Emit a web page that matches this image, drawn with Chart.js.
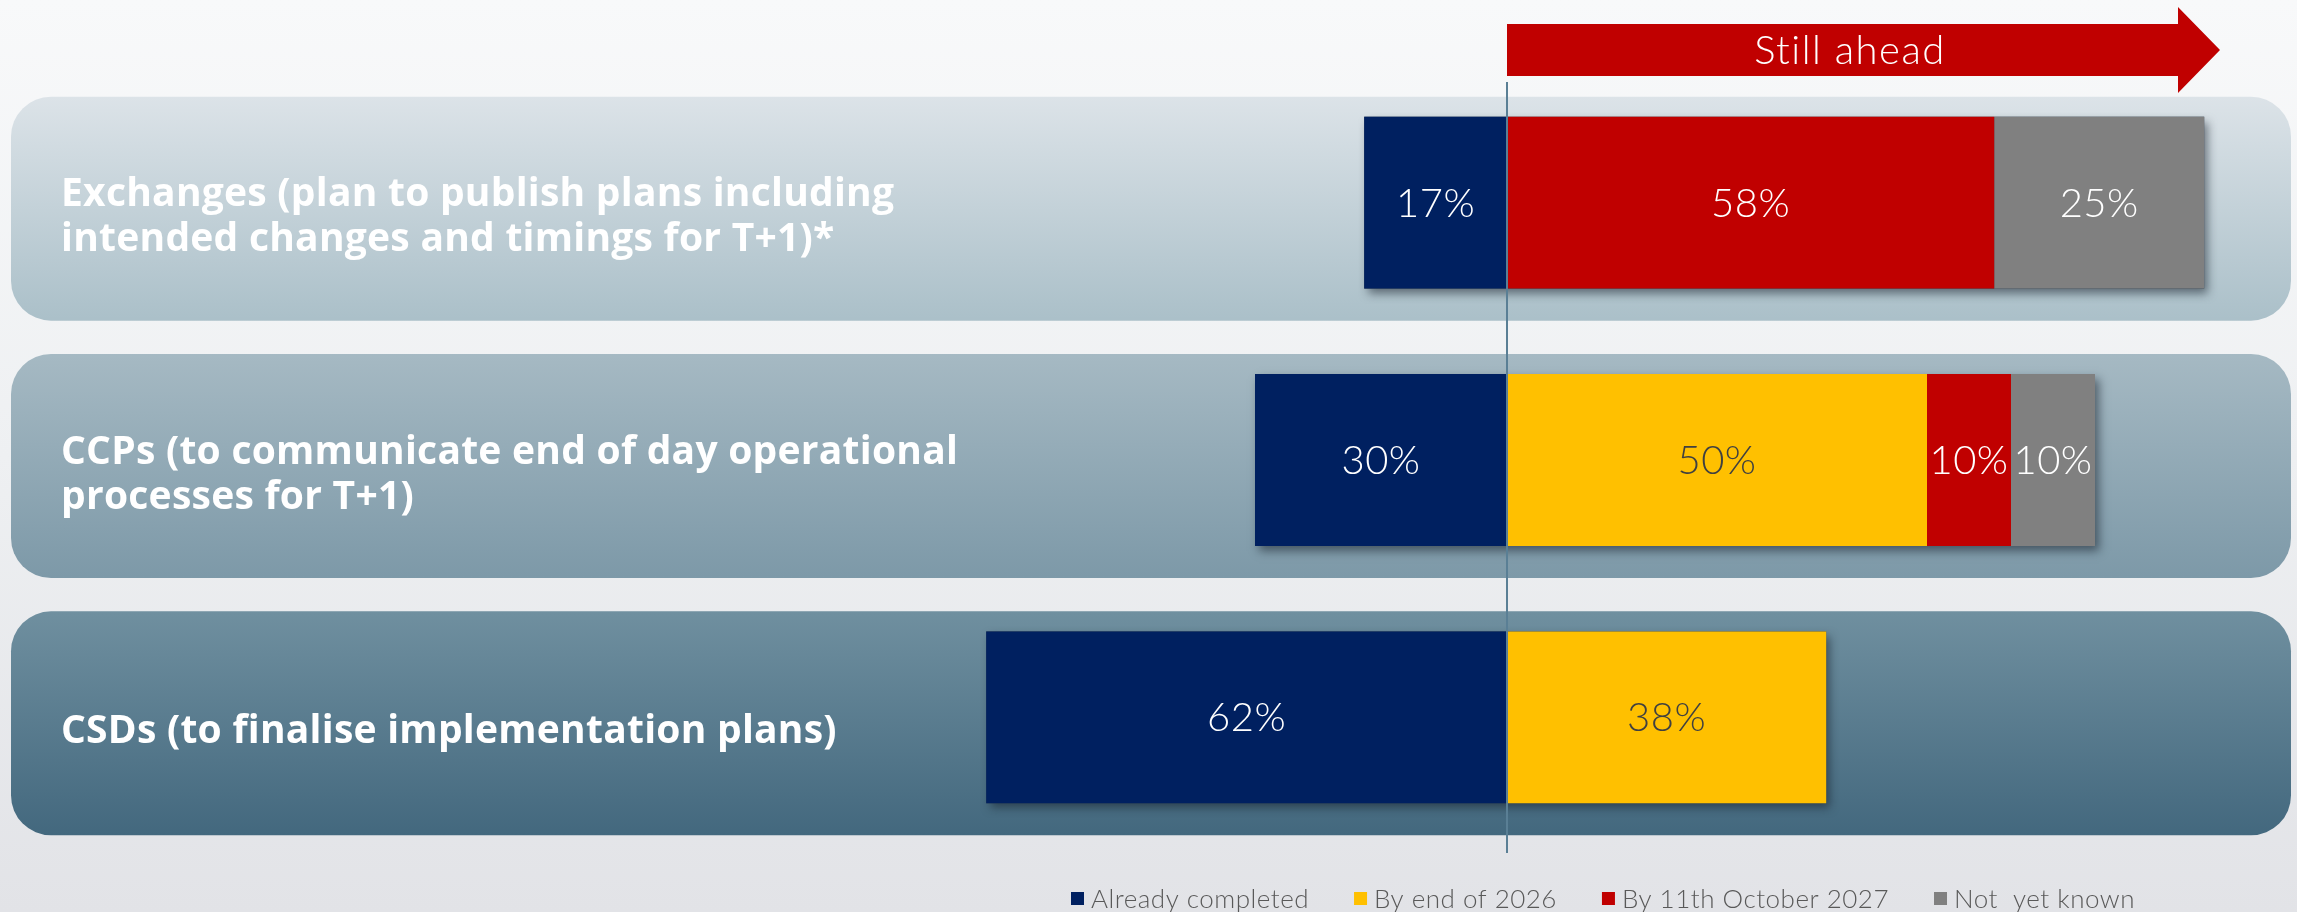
<!DOCTYPE html>
<html>
<head>
<meta charset="utf-8">
<script src="https://cdn.jsdelivr.net/npm/chart.js@4.4.1/dist/chart.umd.min.js"></script>
<style>
  html, body { margin: 0; padding: 0; background: #eef0f2; }
  #wrap { width: 2297px; height: 912px; }
  canvas { display: block; }
</style>
</head>
<body>
<div id="wrap"><canvas id="progressChart" width="2297" height="912"></canvas></div>
<script>
// Survey categories (two-line labels where the text wraps)
const categories = [
    ['Exchanges (plan to publish plans including', 'intended changes and timings for T+1)*'],
    ['CCPs (to communicate end of day operational', 'processes for T+1)'],
    ['CSDs (to finalise implementation plans)']
];

// Share of respondents per status, in %
const seriesNames = ['Already completed', 'By end of 2026', 'By 11th October 2027', 'Not  yet known'];
const alreadyCompleted = [17, 30, 62];
const byEnd2026 = [null, 50, 38];
const byOct2027 = [58, 10, null];
const notYetKnown = [25, 10, null];

const seriesColors = ['#002060', '#ffc000', '#c00000', '#808080'];
const valueColors = ['#ffffff', '#404040', '#ffffff', '#ffffff'];

const labelFont = '700 39px "Open Sans"';
const valueFont = '300 40px Lato';
const legendFont = '300 26px Lato';

// Completed work sits to the left of the "now" line, the rest to the right
const seriesData = [
    alreadyCompleted.map(v => (v == null ? null : -v)),
    byEnd2026,
    byOct2027,
    notYetKnown
];

// Background, rounded category panels, category text and the "Still ahead" arrow
const panelsPlugin = {
    id: 'panels',
    beforeDraw(chart) {
        const { ctx, width, height } = chart;
        const yScale = chart.scales.y;
        ctx.save();

        const bg = ctx.createLinearGradient(0, 0, 0, height);
        bg.addColorStop(0, '#f8f9fa');
        bg.addColorStop(0.5, '#eef0f2');
        bg.addColorStop(1, '#e2e3e7');
        ctx.fillStyle = bg;
        ctx.fillRect(0, 0, width, height);

        const top0 = yScale.getPixelForValue(0) - 106;
        const bottomN = yScale.getPixelForValue(categories.length - 1) + 118;
        const grad = ctx.createLinearGradient(0, top0, 0, bottomN);
        grad.addColorStop(0, '#dce3e8');
        grad.addColorStop(0.3, '#abc0c9');
        grad.addColorStop(0.36, '#a4b8c2');
        grad.addColorStop(0.65, '#7d99a8');
        grad.addColorStop(0.7, '#6f8f9f');
        grad.addColorStop(1, '#43687e');

        categories.forEach((lines, i) => {
            const cy = yScale.getPixelForValue(i);
            ctx.beginPath();
            ctx.roundRect(11, cy - 106, 2280, 224, 40);
            ctx.fillStyle = grad;
            ctx.fill();

            ctx.fillStyle = '#ffffff';
            ctx.font = labelFont;
            ctx.letterSpacing = '0.25px';
            ctx.textAlign = 'left';
            ctx.textBaseline = 'middle';
            const lineGap = 45;
            const startY = cy + 15 - (lines.length - 1) * lineGap / 2;
            lines.forEach((t, j) => ctx.fillText(t, 61, startY + j * lineGap));
        });

        // arrow starting from the zero line
        const x0 = chart.scales.x.getPixelForValue(0);
        ctx.beginPath();
        ctx.moveTo(x0, 24);
        ctx.lineTo(2178, 24);
        ctx.lineTo(2178, 7);
        ctx.lineTo(2220, 50);
        ctx.lineTo(2178, 93);
        ctx.lineTo(2178, 76);
        ctx.lineTo(x0, 76);
        ctx.closePath();
        ctx.fillStyle = '#c00000';
        ctx.fill();
        ctx.fillStyle = '#ffffff';
        ctx.font = '300 40px Lato';
        ctx.letterSpacing = '1.5px';
        ctx.textAlign = 'center';
        ctx.fillText('Still ahead', 1850, 51);
        ctx.restore();
    },
    // soft drop shadow behind each stacked bar
    beforeDatasetsDraw(chart) {
        const { ctx } = chart;
        ctx.save();
        ctx.shadowColor = 'rgba(20, 30, 40, 0.55)';
        ctx.shadowBlur = 9;
        ctx.shadowOffsetX = 4;
        ctx.shadowOffsetY = 5;
        ctx.fillStyle = '#334455';
        categories.forEach((_, i) => {
            let left = Infinity, right = -Infinity, top = 0, h = 0;
            chart.data.datasets.forEach((ds, d) => {
                const el = chart.getDatasetMeta(d).data[i];
                if (!el || ds.data[i] == null) return;
                left = Math.min(left, el.x, el.base);
                right = Math.max(right, el.x, el.base);
                top = el.y - el.height / 2;
                h = el.height;
            });
            if (left < right) ctx.fillRect(left, top, right - left, h);
        });
        ctx.restore();
    },
    afterDatasetsDraw(chart) {
        const { ctx } = chart;
        ctx.save();
        ctx.font = valueFont;
        ctx.letterSpacing = '0.5px';
        ctx.textAlign = 'center';
        ctx.textBaseline = 'middle';
        chart.data.datasets.forEach((ds, d) => {
            chart.getDatasetMeta(d).data.forEach((el, i) => {
                const v = ds.data[i];
                if (v == null) return;
                ctx.fillStyle = valueColors[d];
                ctx.fillText(Math.abs(v) + '%', (el.x + el.base) / 2, el.y + 1);
            });
        });

        // the "now" line
        const x0 = chart.scales.x.getPixelForValue(0);
        ctx.beginPath();
        ctx.moveTo(x0, 82);
        ctx.lineTo(x0, 853);
        ctx.strokeStyle = '#5a7f95';
        ctx.lineWidth = 2;
        ctx.stroke();

        // legend row along the bottom
        ctx.font = legendFont;
        ctx.letterSpacing = '0.5px';
        ctx.textAlign = 'left';
        let lx = 1071;
        seriesNames.forEach((name, d) => {
            ctx.fillStyle = seriesColors[d];
            ctx.fillRect(lx, 892, 13, 13);
            ctx.fillStyle = '#595959';
            ctx.fillText(name, lx + 20, 900);
            lx += 20 + ctx.measureText(name).width + 45;
        });
        ctx.restore();
    }
};

new Chart(document.getElementById('progressChart'), {
    type: 'bar',
    data: {
        labels: categories,
        datasets: seriesNames.map((name, d) => ({
            label: name,
            data: seriesData[d],
            backgroundColor: seriesColors[d],
            borderWidth: 0,
            categoryPercentage: 0.668,
            barPercentage: 1
        }))
    },
    options: {
        responsive: false,
        animation: false,
        indexAxis: 'y',
        layout: { padding: { left: 835, right: 34, top: 74, bottom: 66 } },
        scales: {
            x: { stacked: true, min: -80, max: 90, display: false },
            y: { stacked: true, display: false }
        },
        plugins: {
            legend: { display: false },
            tooltip: { enabled: false }
        }
    },
    plugins: [panelsPlugin]
});
</script>
</body>
</html>
